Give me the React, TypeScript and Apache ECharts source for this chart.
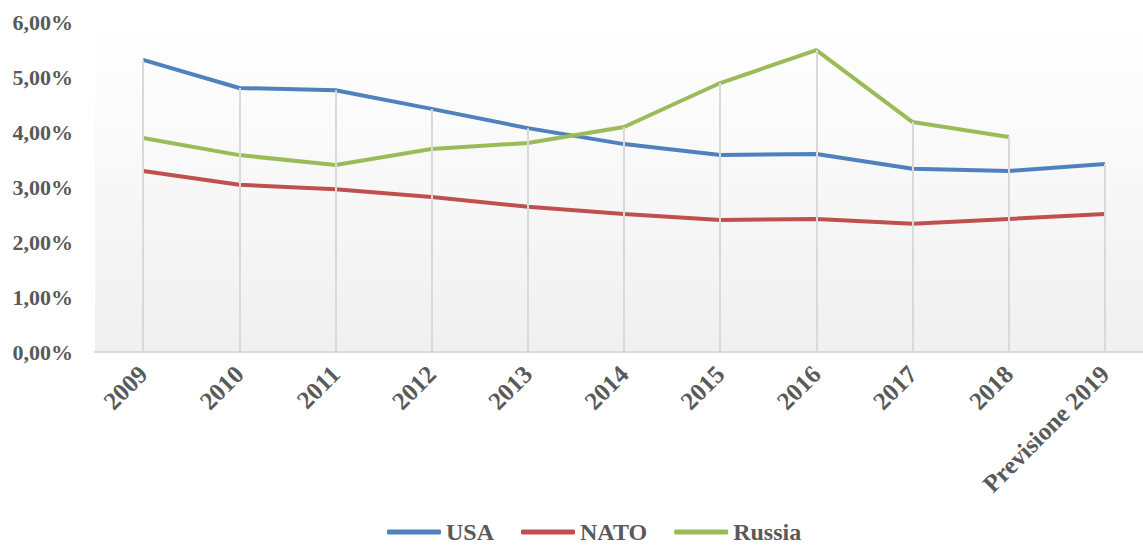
import React, { useEffect, useRef } from "react";
import * as echarts from "echarts";

const categories = ["2009", "2010", "2011", "2012", "2013", "2014", "2015", "2016", "2017", "2018", "Previsione 2019"];
const usa = [5.31, 4.8, 4.76, 4.42, 4.07, 3.78, 3.58, 3.6, 3.33, 3.29, 3.42];
const nato = [3.29, 3.04, 2.96, 2.82, 2.64, 2.51, 2.4, 2.42, 2.33, 2.42, 2.51];
const russia = [3.89, 3.58, 3.4, 3.69, 3.8, 4.09, 4.89, 5.49, 4.18, 3.91, null];

const FONT = "'Liberation Serif', 'DejaVu Serif', serif";
const TXT = "#595959";

export default function App() {
  const ref = useRef<HTMLDivElement>(null);
  useEffect(() => {
    const chart = echarts.init(ref.current!, undefined, { renderer: "svg" });
    const dropData = categories.map((c, i) => {
      const vals = [usa[i], nato[i], russia[i]].filter((v) => v != null) as number[];
      const m = Math.max(...vals);
      return [{ coord: [i, 0] }, { coord: [i, m] }];
    });
    chart.setOption({
      animation: false,
      grid: {
        left: 95,
        top: 22,
        bottom: 195,
        width: 1058,
        outerBoundsMode: "none",
        containLabel: false,
        show: true,
        borderWidth: 0,
        backgroundColor: new echarts.graphic.LinearGradient(0, 0, 0, 1, [
          { offset: 0, color: "#ffffff" },
          { offset: 1, color: "#f0f0f0" },
        ]),
      },
      legend: {
        top: 520,
        left: 387,
        padding: 0,
        itemWidth: 54,
        itemHeight: 5,
        itemGap: 27,
        icon: "roundRect",
        textStyle: { fontFamily: FONT, fontWeight: "bold", fontSize: 24, color: TXT },
        data: ["USA", "NATO", "Russia"],
      },
      xAxis: {
        type: "category",
        data: categories,
        boundaryGap: true,
        axisLine: { lineStyle: { color: "#d9d9d9", width: 2 } },
        axisTick: { show: false },
        splitLine: { show: false },
        axisLabel: {
          rotate: 45,
          interval: 0,
          margin: 18,
          fontFamily: FONT,
          fontWeight: "bold",
          fontSize: 25,
          color: TXT,
        },
      },
      yAxis: {
        type: "value",
        min: 0,
        max: 6,
        interval: 1,
        axisLine: { show: false },
        axisTick: { show: false },
        splitLine: { show: false },
        axisLabel: {
          margin: 22,
          fontFamily: FONT,
          fontWeight: "bold",
          fontSize: 22,
          color: TXT,
          formatter: (v: number) => v.toFixed(2).replace(".", ",") + "%",
        },
      },
      series: [
        {
          name: "drop",
          type: "line",
          data: [],
          silent: true,
          z: 1,
          markLine: {
            silent: true,
            symbol: "none",
            label: { show: false },
            lineStyle: { color: "#d9d9d9", width: 2, type: "solid" },
            data: dropData,
          },
        },
        {
          name: "USA",
          type: "line",
          data: usa,
          symbol: "none",
          z: 3,
          lineStyle: { color: "#4f81bd", width: 4 },
          itemStyle: { color: "#4f81bd" },
        },
        {
          name: "NATO",
          type: "line",
          data: nato,
          symbol: "none",
          z: 3,
          lineStyle: { color: "#c0504d", width: 4 },
          itemStyle: { color: "#c0504d" },
        },
        {
          name: "Russia",
          type: "line",
          data: russia,
          symbol: "none",
          z: 3,
          lineStyle: { color: "#9bbb59", width: 4 },
          itemStyle: { color: "#9bbb59" },
        },
      ],
    });
    return () => chart.dispose();
  }, []);
  return (
    <div
      ref={ref}
      style={{ position: "fixed", left: 0, top: 0, width: 1143, height: 547, background: "#ffffff" }}
    />
  );
}
